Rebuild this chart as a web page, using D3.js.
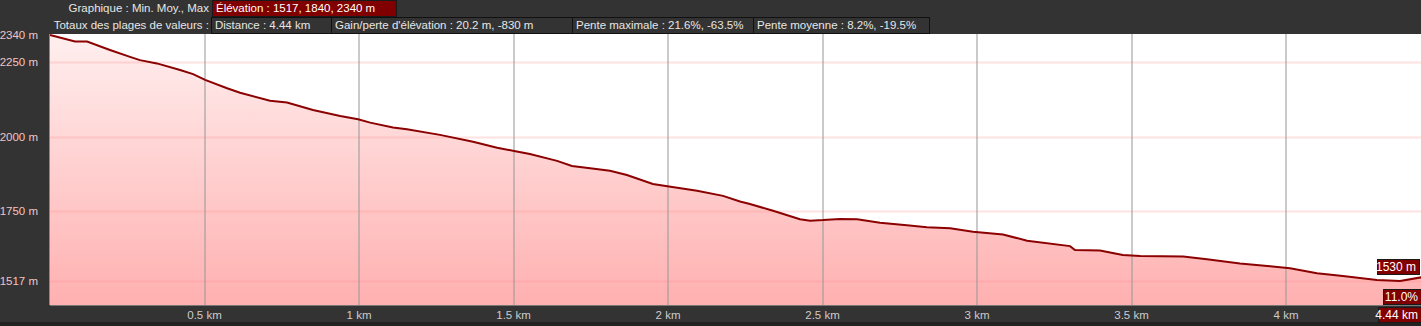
<!DOCTYPE html>
<html>
<head>
<meta charset="utf-8">
<script src="https://cdn.jsdelivr.net/npm/d3@7"></script>
<style>
body{margin:0;background:#333;overflow:hidden;}
svg{display:block;font-family:"Liberation Sans",Arial,sans-serif;}
</style>
</head>
<body>
<svg id="chart" width="1421" height="326"></svg>
<script>
// profil : distance (km) et altitude (m)
var distances = [0,0.081,0.120,0.194,0.259,0.291,0.346,0.421,0.463,0.502,0.573,0.615,0.712,0.767,0.851,0.939,0.997,1.036,1.110,1.155,1.262,1.369,1.447,1.502,1.553,1.641,1.689,1.748,1.812,1.867,1.951,2.003,2.094,2.178,2.233,2.265,2.340,2.427,2.460,2.502,2.557,2.612,2.686,2.773,2.838,2.913,2.987,3.084,3.162,3.301,3.317,3.398,3.472,3.528,3.667,3.744,3.851,3.948,4.013,4.100,4.184,4.294,4.369,4.44];
var altitudes = [2340,2318,2318,2290,2267,2256,2245,2223,2209,2190,2162,2147,2120,2114,2089,2069,2058,2047,2031,2025,2006,1983,1963,1952,1942,1919,1902,1894,1886,1872,1842,1833,1819,1802,1783,1775,1752,1724,1719,1721,1725,1724,1712,1704,1697,1694,1682,1673,1652,1634,1621,1619,1604,1601,1599,1590,1576,1567,1560,1543,1534,1521,1517,1530];

var yTicks = [1517,1750,2000,2250,2340];
var xTicks = [0.5,1,1.5,2,2.5,3,3.5,4];
var xTickLabels = ["0.5 km","1 km","1.5 km","2 km","2.5 km","3 km","3.5 km","4 km"];

var headerRow1 = ["Élévation : 1517, 1840, 2340 m"];
var headerRow2 = ["Distance : 4.44 km","Gain/perte d'élévation : 20.2 m, -830 m","Pente maximale : 21.6%, -63.5%","Pente moyenne : 8.2%, -19.5%"];
var row2Widths = [120,241,181,176];

var endLabels = {alt:"1530 m", pente:"11.0%", dist:"4.44 km"};

var W = 1421, H = 326;
var plotLeft = 50, plotTop = 34, plotBottom = 305;

var svg = d3.select("#chart");

var x = d3.scaleLinear().domain([0,4.44]).range([plotLeft,W+1]);
var y = d3.scaleLinear().domain([1437,2340]).range([plotBottom,35]);

// fond
svg.append("rect").attr("x",0).attr("y",0).attr("width",W).attr("height",H).attr("fill","#333");
svg.append("rect").attr("x",plotLeft).attr("y",plotTop).attr("width",W-plotLeft).attr("height",plotBottom-plotTop).attr("fill","#fff");
svg.append("rect").attr("x",0).attr("y",322).attr("width",W).attr("height",4).attr("fill","#222");

var defs = svg.append("defs");
var grad = defs.append("linearGradient").attr("id","fillgrad")
	.attr("gradientUnits","userSpaceOnUse").attr("x1",0).attr("y1",plotTop).attr("x2",0).attr("y2",plotBottom);
grad.append("stop").attr("offset","0%").attr("stop-color","#ffefef");
grad.append("stop").attr("offset","100%").attr("stop-color","#ffb0b0");

var pts = distances.map(function(d,i){ return [d, altitudes[i]]; });

svg.append("path").datum(pts)
	.attr("fill","url(#fillgrad)")
	.attr("d", d3.area().x(function(d){return x(d[0]);}).y0(plotBottom).y1(function(d){return y(d[1]);}));

// grille horizontale
svg.selectAll(".hgrid").data(yTicks.filter(function(v){return v<2340;})).enter().append("line")
	.attr("x1",plotLeft).attr("x2",W).attr("y1",function(d){return Math.round(y(d))+0.5;}).attr("y2",function(d){return Math.round(y(d))+0.5;})
	.attr("stroke","rgba(255,140,140,0.25)").attr("stroke-width",2);

// grille verticale
svg.selectAll(".vgrid").data(xTicks).enter().append("line")
	.attr("x1",function(d){return Math.round(x(d));}).attr("x2",function(d){return Math.round(x(d));})
	.attr("y1",plotTop).attr("y2",plotBottom)
	.attr("stroke","rgba(150,150,150,0.5)").attr("stroke-width",2);

// ligne du profil
svg.append("path").datum(pts)
	.attr("fill","none").attr("stroke","#8b0000").attr("stroke-width",2)
	.attr("d", d3.line().x(function(d){return x(d[0]);}).y(function(d){return y(d[1]);}));

svg.append("line").attr("x1",plotLeft).attr("x2",W).attr("y1",plotBottom+0.5).attr("y2",plotBottom+0.5).attr("stroke","#777");
svg.append("line").attr("x1",plotLeft-0.5).attr("x2",plotLeft-0.5).attr("y1",plotTop).attr("y2",plotBottom).attr("stroke","#888");

// axe Y
svg.selectAll(".ylab").data(yTicks).enter().append("text")
	.attr("x",38).attr("y",function(d){return y(d)+4;})
	.attr("text-anchor","end").attr("font-size",11.5).attr("fill","#f2c4c4")
	.text(function(d){return d+" m";});

// axe X
svg.selectAll(".xlab").data(xTicks).enter().append("text")
	.attr("x",function(d){return x(d);}).attr("y",319)
	.attr("text-anchor","middle").attr("font-size",11.5).attr("fill","#ccc")
	.text(function(d,i){return xTickLabels[i];});

// en-tete
svg.append("rect").attr("x",212.5).attr("y",0.5).attr("width",184).attr("height",16).attr("fill","#800000").attr("stroke","#1a1a1a");
var bx = 211;
headerRow2.forEach(function(t,i){
	svg.append("rect").attr("x",bx+0.5).attr("y",17.5).attr("width",row2Widths[i]).attr("height",16).attr("fill","#333").attr("stroke","#111");
	bx += row2Widths[i];
});

var hdr = svg.append("g").attr("font-size",11.5).attr("fill","#e6e6e6");
hdr.append("text").attr("x",209).attr("y",12).attr("text-anchor","end").text("Graphique : Min. Moy., Max");
hdr.append("text").attr("x",209).attr("y",29).attr("text-anchor","end").text("Totaux des plages de valeurs :");
hdr.append("text").attr("x",216).attr("y",12).attr("fill","#fff").text(headerRow1[0]);
bx = 211;
headerRow2.forEach(function(t,i){
	hdr.append("text").attr("x",bx+4).attr("y",29).text(t);
	bx += row2Widths[i];
});

// etiquettes de fin
function endBox(txt, xr, yt, w){
	svg.append("rect").attr("x",xr-w+0.5).attr("y",yt+0.5).attr("width",w).attr("height",15).attr("fill","#800000").attr("stroke","#1a1a1a").attr("stroke-width",1);
	svg.append("text").attr("x",xr-3).attr("y",yt+12).attr("text-anchor","end").attr("font-size",12).attr("fill","#fff").text(txt);
}
endBox(endLabels.alt, 1419, 259, 42);
endBox(endLabels.pente, 1421, 289, 38);
endBox(endLabels.dist, 1421, 307, 43);
</script>
</body>
</html>
